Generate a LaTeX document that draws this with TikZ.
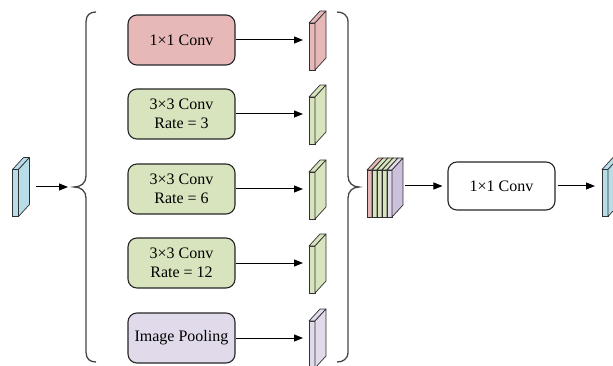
\documentclass[tikz,border=0pt]{standalone}
\usepackage{fontspec}
\setmainfont{Liberation Serif}
\usetikzlibrary{arrows.meta}
\definecolor{pinkc}{HTML}{E6B9B8}
\definecolor{greenc}{HTML}{D7E4BD}
\definecolor{lavc}{HTML}{E0DAEA}
\definecolor{purpc}{HTML}{CBC1DB}
\definecolor{bluec}{HTML}{B7DEE8}
\definecolor{boxline}{HTML}{262626}
\definecolor{slabline}{HTML}{303030}
\definecolor{braceline}{HTML}{454545}
\tikzset{
  convbox/.style={draw=boxline, line width=1.1pt, rounded corners=9pt, minimum width=107pt, minimum height=50pt, align=center, font=\fontsize{16}{19}\selectfont, inner sep=2pt},
  slabface/.style={draw=slabline, line width=0.7pt, minimum height=47pt, inner sep=0pt, outer sep=0pt},
  slabedge/.style={draw=slabline, line width=0.7pt, line join=round},
  conn/.style={-{Triangle[length=9pt,width=7pt]}, line width=1pt, draw=black},
  bracestyle/.style={draw=braceline, line width=1.3pt}
}
% name, x, y, width, front colour, side colour
\newcommand{\slabat}[6]{%
  \node[slabface, minimum width=#4, fill=#5] (#1) at (#2,#3) {};
  \filldraw[slabedge, fill=#5] (#1.north west) -- ++(11,-12) -- ([shift={(11,-12)}]#1.north east) -- (#1.north east) -- cycle;
  \filldraw[slabedge, fill=#6] (#1.north east) -- ++(11,-12) -- ([shift={(11,-12)}]#1.south east) -- (#1.south east) -- cycle;
}
\begin{document}
\begin{tikzpicture}[x=1pt,y=-1pt]
\useasboundingbox (0,0) rectangle (613,366);

% input
\slabat{in}{15.5}{193}{6pt}{bluec}{bluec}

% braces
\coordinate (lbt) at (74,187);
\coordinate (rbt) at (359,187);
\draw[bracestyle] (96,12) .. controls (90,12) and (86,15) .. (86,22) -- (86,176) .. controls (86,183) and (81,187) .. (lbt) .. controls (81,187) and (86,191) .. (86,198) -- (86,352) .. controls (86,359) and (90,362) .. (96,362);
\draw[bracestyle] (337,12) .. controls (343,12) and (348,15) .. (348,22) -- (348,176) .. controls (348,183) and (353,187) .. (rbt) .. controls (353,187) and (348,191) .. (348,198) -- (348,352) .. controls (348,359) and (343,362) .. (337,362);

\draw[conn, shorten <=17.5pt, shorten >=6pt] (in.east |- lbt) -- (lbt);

% branch boxes
\node[convbox, fill=pinkc] (b1) at (181.5,40) {1×1 Conv};
\node[convbox, fill=greenc] (b2) at (181.5,114) {3×3 Conv\\Rate = 3};
\node[convbox, fill=greenc] (b3) at (181.5,189) {3×3 Conv\\Rate = 6};
\node[convbox, fill=greenc] (b4) at (181.5,263) {3×3 Conv\\Rate = 12};
\node[convbox, fill=lavc] (b5) at (181.5,338) {Image Pooling};

% branch outputs
\slabat{s1}{312}{46.5}{6pt}{pinkc}{pinkc}
\slabat{s2}{312}{120.5}{6pt}{greenc}{greenc}
\slabat{s3}{312}{195.5}{6pt}{greenc}{greenc}
\slabat{s4}{312}{269.5}{6pt}{greenc}{greenc}
\slabat{s5}{312}{344.5}{6pt}{lavc}{lavc}

\foreach \i in {1,...,5}{
  \draw[conn, shorten >=6pt] (b\i.east) -- (b\i.east -| s\i.west);
}

% concatenated stack
\slabat{c1}{369.5}{193.5}{5pt}{pinkc}{pinkc}
\slabat{c2}{374.5}{193.5}{5pt}{greenc}{greenc}
\slabat{c3}{379.5}{193.5}{5pt}{greenc}{greenc}
\slabat{c4}{384.5}{193.5}{5pt}{greenc}{greenc}
\slabat{c5}{389.5}{193.5}{5pt}{lavc}{purpc}

% final conv
\node[convbox, fill=white, minimum height=48pt] (fb) at (501.5,186) {1×1 Conv};
\draw[conn, shorten <=13pt, shorten >=5pt] (c5.east |- fb.west) -- (fb.west);

% output
\slabat{out}{605}{193}{6pt}{bluec}{bluec}
\draw[conn, shorten <=2pt, shorten >=7pt] (fb.east) -- (fb.east -| out.west);
\end{tikzpicture}
\end{document}
